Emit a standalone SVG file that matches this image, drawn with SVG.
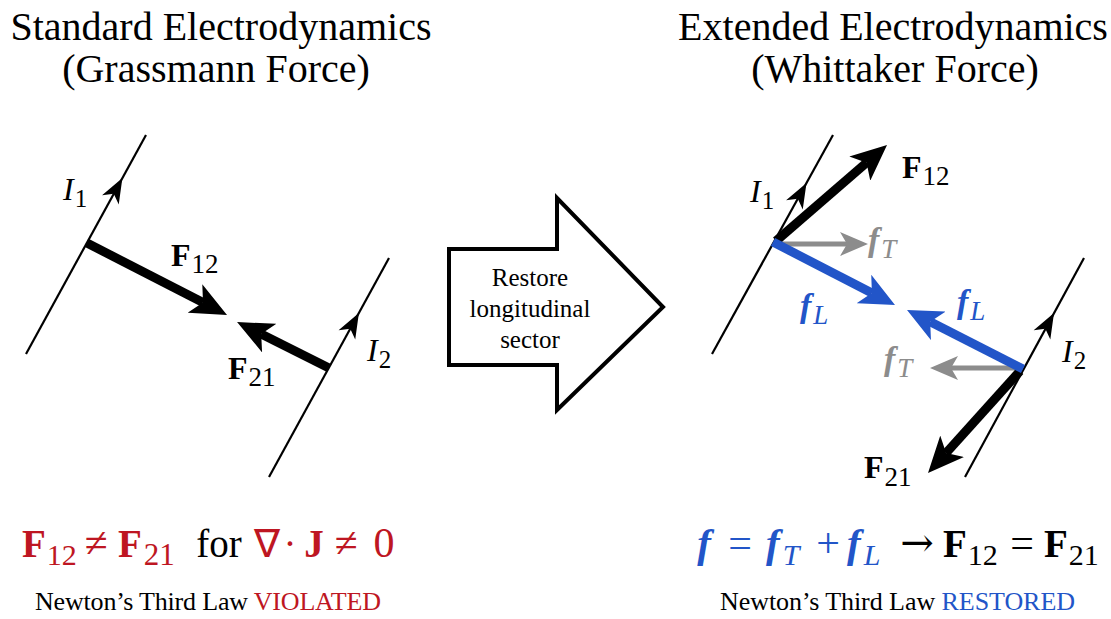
<svg xmlns="http://www.w3.org/2000/svg" xmlns:xlink="http://www.w3.org/1999/xlink" width="1111" height="619" viewBox="0 0 1111 619">
<defs>
<style>
text{font-family:"Liberation Serif","Times New Roman",serif;fill:#000;}
.title{font-size:40px;text-anchor:middle;}
.lab{font-size:32px;}
.flab{font-size:34px;}
.red{fill:#BE1622;}
.blue{fill:#2255C8;}
.gray{fill:#8C8C8C;}
.wire{stroke:#000;stroke-width:2.2;fill:none;}
.fk{stroke:#000;stroke-width:9;fill:none;}
.fb{stroke:#2255C8;stroke-width:9;fill:none;}
.fg{stroke:#8C8C8C;stroke-width:5;fill:none;}
.box{font-family:"Liberation Serif","Times New Roman",serif;font-size:25px;text-anchor:middle;}
.law{font-size:26px;}
.eq{font-size:39px;}
</style>
<marker id="hk" markerUnits="userSpaceOnUse" markerWidth="36" markerHeight="32" refX="9" refY="16" orient="auto"><path d="M0,0 L36,16 L0,32 L9,16 Z" fill="#000"/></marker>
<marker id="hb" markerUnits="userSpaceOnUse" markerWidth="35" markerHeight="32" refX="9" refY="16" orient="auto"><path d="M0,0 L35,16 L0,32 L9,16 Z" fill="#2255C8"/></marker>
<marker id="hg" markerUnits="userSpaceOnUse" markerWidth="28" markerHeight="24" refX="7" refY="12" orient="auto"><path d="M0,0 L28,12 L0,24 L7,12 Z" fill="#8C8C8C"/></marker>
<path id="wh" d="M0,0 L-25,-9.5 L-18,0 L-25,9.5 Z" fill="#000"/>
</defs>

<g id="title-left">
<text class="title" x="221" y="40">Standard Electrodynamics</text>
<text class="title" x="216" y="82">(Grassmann Force)</text>
</g>
<g id="title-right">
<text class="title" x="893" y="40">Extended Electrodynamics</text>
<text class="title" x="895" y="82">(Whittaker Force)</text>
</g>

<g id="wires">
<line class="wire" x1="146" y1="135" x2="26" y2="354"/>
<line class="wire" x1="389" y1="258" x2="269" y2="477"/>
<line class="wire" x1="833" y1="135" x2="712" y2="354"/>
<line class="wire" x1="1084" y1="258" x2="965" y2="477"/>
<use xlink:href="#wh" transform="translate(122.4,178) rotate(-61.3)"/>
<use xlink:href="#wh" transform="translate(358.9,313) rotate(-61.3)"/>
<use xlink:href="#wh" transform="translate(806.5,183) rotate(-61.1)"/>
<use xlink:href="#wh" transform="translate(1054,313) rotate(-61.3)"/>
</g>

<g id="connectors">
<line class="fk" x1="87" y1="243" x2="203" y2="302.6" marker-end="url(#hk)"/>
<line class="fk" x1="329" y1="368" x2="261.2" y2="334.1" marker-end="url(#hk)"/>
<line class="fg" x1="777" y1="244" x2="847" y2="244" marker-end="url(#hg)"/>
<line class="fg" x1="1020" y1="368" x2="951" y2="368" marker-end="url(#hg)"/>
<line class="fk" x1="776" y1="241" x2="866.6" y2="162.7" marker-end="url(#hk)"/>
<line class="fk" x1="1020" y1="371" x2="946.1" y2="453" marker-end="url(#hk)"/>
<line class="fb" x1="773" y1="242" x2="871.9" y2="293.1" marker-end="url(#hb)"/>
<line class="fb" x1="1023" y1="369" x2="930.2" y2="321.8" marker-end="url(#hb)"/>
</g>

<g id="labels-left">
<text class="lab" x="63" y="200"><tspan font-style="italic">I</tspan><tspan dx="1" dy="7" font-size="25">1</tspan></text>
<text class="lab" x="171" y="266"><tspan font-weight="bold">F</tspan><tspan dx="1" dy="7" font-size="27">12</tspan></text>
<text class="lab" x="228" y="379"><tspan font-weight="bold">F</tspan><tspan dx="1" dy="7" font-size="27">21</tspan></text>
<text class="lab" x="367" y="361"><tspan font-style="italic">I</tspan><tspan dx="1" dy="7" font-size="25">2</tspan></text>
</g>

<g id="labels-right">
<text class="lab" x="750" y="202"><tspan font-style="italic">I</tspan><tspan dx="1" dy="7" font-size="25">1</tspan></text>
<text class="lab" x="902" y="178"><tspan font-weight="bold">F</tspan><tspan dx="1" dy="7" font-size="27">12</tspan></text>
<text class="flab gray" x="868" y="251"><tspan font-weight="bold" font-style="italic">f</tspan><tspan dx="2" dy="7" font-size="27" font-style="italic">T</tspan></text>
<text class="flab blue" x="800" y="317"><tspan font-weight="bold" font-style="italic">f</tspan><tspan dx="2" dy="7" font-size="27" font-style="italic">L</tspan></text>
<text class="flab blue" x="957" y="313"><tspan font-weight="bold" font-style="italic">f</tspan><tspan dx="2" dy="7" font-size="27" font-style="italic">L</tspan></text>
<text class="flab gray" x="884" y="370"><tspan font-weight="bold" font-style="italic">f</tspan><tspan dx="2" dy="7" font-size="27" font-style="italic">T</tspan></text>
<text class="lab" x="1062" y="362"><tspan font-style="italic">I</tspan><tspan dx="1" dy="7" font-size="25">2</tspan></text>
<text class="lab" x="864" y="478"><tspan font-weight="bold">F</tspan><tspan dx="1" dy="8" font-size="27">21</tspan></text>
</g>

<g id="block-arrow">
<polygon points="449,249 557,249 557,198 663,307 557,410 557,365 449,365" fill="#fff" stroke="#000" stroke-width="4" stroke-linejoin="miter"/>
<text class="box" x="530" y="286">Restore</text>
<text class="box" x="530" y="317">longitudinal</text>
<text class="box" x="530" y="348">sector</text>
</g>

<g id="formula-left">
<text class="eq red" x="22" y="557"><tspan font-weight="bold">F</tspan><tspan dx="1" dy="8" font-size="30">12</tspan></text>
<text class="eq red" x="96" y="557" text-anchor="middle" style="font-size:42px">≠</text>
<text class="eq red" x="118" y="557"><tspan font-weight="bold">F</tspan><tspan dx="2" dy="8" font-size="31">21</tspan></text>
<text class="eq" x="219" y="557" text-anchor="middle">for</text>
<text class="eq red" x="267" y="557" text-anchor="middle">∇</text>
<text class="eq red" x="290" y="557" text-anchor="middle">·</text>
<text class="eq red" x="314" y="557" text-anchor="middle" font-weight="bold">J</text>
<text class="eq red" x="346" y="557" text-anchor="middle" style="font-size:42px">≠</text>
<text class="eq red" x="384" y="557" text-anchor="middle" style="font-size:42px">0</text>
</g>
<g id="law-left">
<text class="law" x="35" y="610" textLength="346">Newton’s Third Law <tspan class="red">VIOLATED</tspan></text>
</g>

<g id="formula-right">
<text class="eq blue" x="704" y="557" text-anchor="middle" font-weight="bold" font-style="italic" style="font-size:41px">f</text>
<text class="eq blue" x="740" y="557" text-anchor="middle" style="font-size:42px">=</text>
<text class="eq blue" x="766" y="557"><tspan font-weight="bold" font-style="italic" style="font-size:41px">f</tspan><tspan dx="3" dy="8" font-size="30" font-style="italic">T</tspan></text>
<text class="eq blue" x="828" y="557" text-anchor="middle" style="font-size:42px">+</text>
<text class="eq blue" x="847" y="557"><tspan font-weight="bold" font-style="italic" style="font-size:41px">f</tspan><tspan dx="3" dy="8" font-size="30" font-style="italic">L</tspan></text>
<text class="eq" x="917" y="556" text-anchor="middle" style="font-size:40px;font-family:'DejaVu Serif',serif">→</text>
<text class="eq" x="943" y="557"><tspan font-weight="bold">F</tspan><tspan dx="1" dy="8" font-size="30">12</tspan></text>
<text class="eq" x="1022" y="557" text-anchor="middle" style="font-size:42px">=</text>
<text class="eq" x="1044" y="557"><tspan font-weight="bold">F</tspan><tspan dx="1" dy="8" font-size="30">21</tspan></text>
</g>
<g id="law-right">
<text class="law" x="720" y="610" textLength="355">Newton’s Third Law <tspan class="blue">RESTORED</tspan></text>
</g>
</svg>
